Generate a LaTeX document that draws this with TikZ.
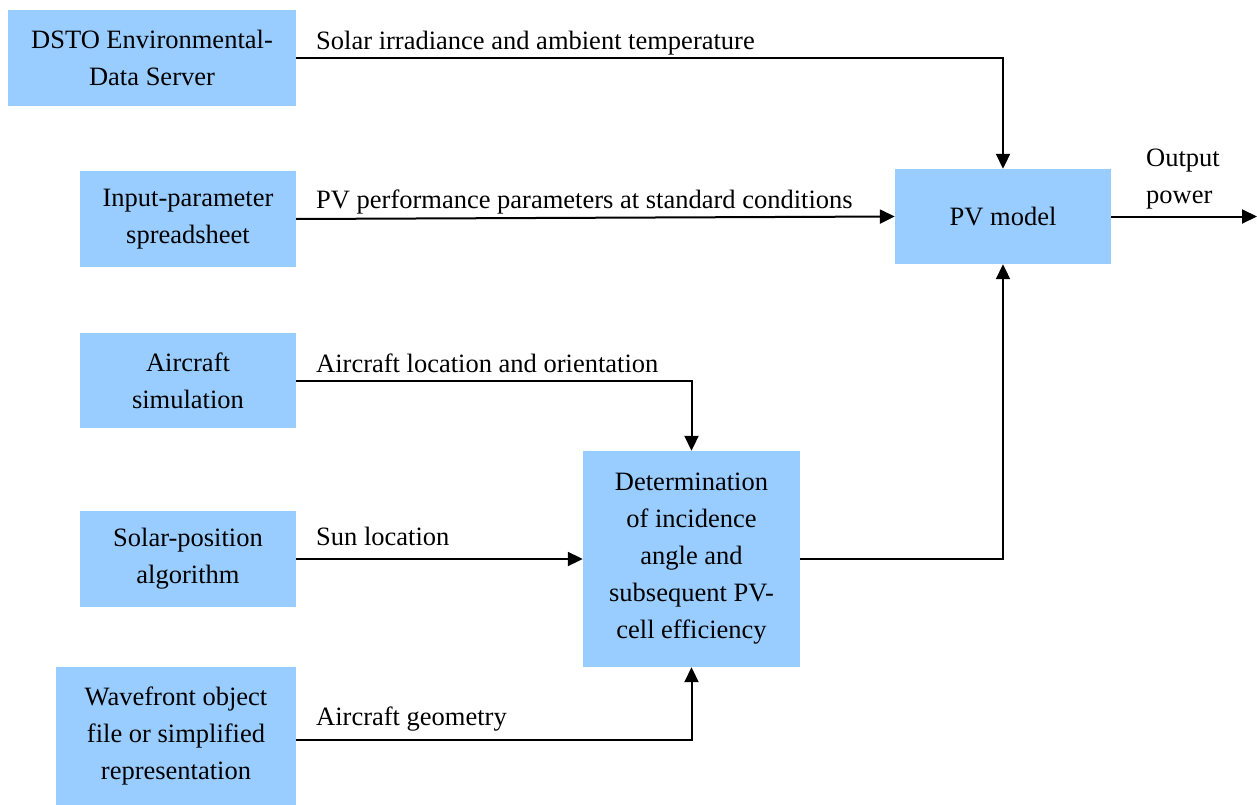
\documentclass[tikz,border=0pt]{standalone}
\usepackage{fontspec}
\setmainfont{Liberation Serif}
\usetikzlibrary{arrows.meta}
\tikzset{
  blk/.style={fill=boxblue, draw=none, inner sep=0pt, align=center,
    font=\fontsize{26.5}{37}\selectfont},
  lbl/.style={anchor=base west, inner sep=0pt, font=\fontsize{26.5}{37}\selectfont},
  conn/.style={line width=2pt, -{Triangle[length=15pt,width=14pt]}},
  plain/.style={line width=2pt}
}
\definecolor{boxblue}{HTML}{99CCFF}
\begin{document}
\begin{tikzpicture}[x=1pt,y=-1pt]
\useasboundingbox (0,0) rectangle (1257,805);
% boxes
\node[blk, minimum width=288pt, minimum height=96pt] (dsto) at (152,58) {DSTO Environmental-\\Data Server};
\node[blk, minimum width=216pt, minimum height=96pt] (inp) at (188,219) {Input-parameter\\spreadsheet};
\node[blk, minimum width=216pt, minimum height=95pt] (acs) at (188,380.5) {Aircraft\\simulation};
\node[blk, minimum width=216pt, minimum height=96pt] (spa) at (188,559) {Solar-position\\algorithm};
\node[blk, minimum width=240pt, minimum height=138pt] (wf) at (176,736) {Wavefront object\\file or simplified\\representation};
\node[blk, minimum width=216pt, minimum height=95pt] (pv) at (1003,216.5) {PV model};
\node[blk, minimum width=217pt, minimum height=216pt] (det) at (691.5,559) {Determination\\of incidence\\angle and\\subsequent PV-\\cell efficiency};
\coordinate (out) at (1257,216.5);
% connectors
\draw[conn] (dsto.east) -| (pv.north);
\draw[conn] (inp.east) -- (pv.west);
\draw[conn] (acs.east) -| (det.north);
\draw[conn] (spa.east) -- (det.west);
\draw[conn] ([yshift=-3.5pt]wf.east) -| (det.south);
\draw[conn] (det.east) -| (pv.south);
\draw[conn] (pv.east) -- (out);
% labels
\node[lbl] (l1) at (316,50) {Solar irradiance and ambient temperature};
\node[lbl] (l2) at (316,208) {PV performance parameters at standard conditions};
\node[lbl] (l3) at (316,372) {Aircraft location and orientation};
\node[lbl] (l4) at (316,545) {Sun location};
\node[lbl] (l5) at (316,725) {Aircraft geometry};
\node[lbl] (l6) at (1146,167) {Output};
\node[lbl] (l7) at (1146,203) {power};
\end{tikzpicture}
\end{document}
